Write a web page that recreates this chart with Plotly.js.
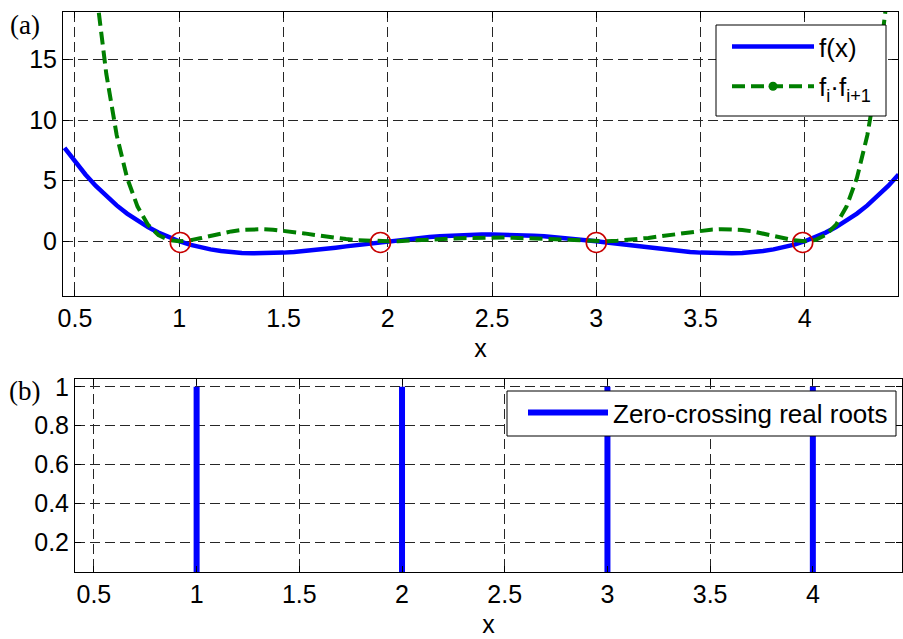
<!DOCTYPE html>
<html>
<head>
<meta charset="utf-8">
<script src="https://cdn.plot.ly/plotly-3.0.1.min.js"></script>
<style>html,body{margin:0;padding:0;background:#fff;} #chart{width:903px;height:639px;}</style>
</head>
<body>
<div id="chart"></div>
<script>
// Sample positions along x
const xSample = [0.45, 0.50, 0.55, 0.60, 0.65, 0.70, 0.75, 0.80, 0.85, 0.90, 0.95, 1.00,
  1.05, 1.10, 1.15, 1.20, 1.25, 1.30, 1.35, 1.40, 1.45, 1.50, 1.55, 1.60, 1.65, 1.70,
  1.75, 1.80, 1.85, 1.90, 1.95, 2.00, 2.05, 2.10, 2.15, 2.20, 2.25, 2.30, 2.35, 2.40,
  2.45, 2.50, 2.55, 2.60, 2.65, 2.70, 2.75, 2.80, 2.85, 2.90, 2.95, 3.00, 3.05, 3.10,
  3.15, 3.20, 3.25, 3.30, 3.35, 3.40, 3.45, 3.50, 3.55, 3.60, 3.65, 3.70, 3.75, 3.80,
  3.85, 3.90, 3.95, 4.00, 4.05, 4.10, 4.15, 4.20, 4.25, 4.30, 4.35, 4.40, 4.45];

// f(x)
const fValues = [7.717, 6.563, 5.515, 4.570, 3.720, 2.960, 2.285, 1.690, 1.168, 0.716, 0.328, 0,
  -0.273, -0.496, -0.672, -0.806, -0.902, -0.964, -0.995, -0.998, -0.978, -0.938, -0.879, -0.806, -0.722, -0.628,
  -0.527, -0.422, -0.315, -0.208, -0.102, 0, 0.097, 0.188, 0.271, 0.346, 0.410, 0.464, 0.507, 0.538,
  0.556, 0.563, 0.556, 0.538, 0.507, 0.464, 0.410, 0.346, 0.271, 0.188, 0.097, 0, -0.102, -0.208,
  -0.315, -0.422, -0.527, -0.628, -0.722, -0.806, -0.879, -0.938, -0.978, -0.998, -0.995, -0.964, -0.902, -0.806,
  -0.672, -0.496, -0.273, 0, 0.328, 0.716, 1.168, 1.690, 2.285, 2.960, 3.720, 4.570, 5.515];

// f_i * f_{i+1}
const productValues = [59.55, 43.07, 30.42, 20.88, 13.84, 8.76, 5.22, 2.86, 1.364, 0.513, 0.108, 0,
  0.075, 0.246, 0.452, 0.650, 0.814, 0.929, 0.990, 0.996, 0.956, 0.879, 0.773, 0.650, 0.521, 0.394,
  0.278, 0.178, 0.099, 0.043, 0.010, 0, 0.009, 0.035, 0.073, 0.120, 0.168, 0.215, 0.257, 0.289,
  0.309, 0.316, 0.309, 0.289, 0.257, 0.215, 0.168, 0.120, 0.073, 0.035, 0.009, 0, 0.010, 0.043,
  0.099, 0.178, 0.278, 0.394, 0.521, 0.650, 0.773, 0.879, 0.956, 0.996, 0.990, 0.929, 0.814, 0.650,
  0.452, 0.246, 0.075, 0, 0.108, 0.513, 1.364, 2.86, 5.22, 8.76, 13.84, 20.88, 30.42];

// Detected roots (red circles in panel a)
const rootsFound = [1.005, 1.965, 3.0, 3.99];
const rootsFoundY = [-0.1, -0.1, -0.1, -0.1];

// Zero-crossing real roots (panel b)
const rootsX = [1, 2, 3, 4];
const rootIndicator = [1, 1, 1, 1];

const seriesNames = ['f(x)', 'f<sub>i</sub>·f<sub>i+1</sub>', 'Zero-crossing real roots'];

const stemX = [], stemY = [];
rootsX.forEach((r, i) => { stemX.push(r, r, null); stemY.push(0, rootIndicator[i], null); });

const W = 903, H = 639;
const traces = [
  {x: xSample, y: fValues, type: 'scatter', mode: 'lines', name: seriesNames[0],
   line: {color: '#0000ff', width: 4.5}, xaxis: 'x', yaxis: 'y', legend: 'legend', legendgroup: 'a'},
  {x: xSample, y: productValues, type: 'scatter', mode: 'lines+markers', name: seriesNames[1],
   line: {color: '#007f00', width: 4, dash: '13px,6px'},
   marker: {color: '#007f00', size: 9},
   selectedpoints: [0], selected: {marker: {opacity: 1}}, unselected: {marker: {opacity: 0}},
   xaxis: 'x', yaxis: 'y', legend: 'legend', legendgroup: 'b'},
  {x: rootsFound, y: rootsFoundY, type: 'scatter', mode: 'markers', showlegend: false,
   marker: {symbol: 'circle-open', size: 20, color: '#c80000', line: {width: 1.6, color: '#c80000'}},
   xaxis: 'x', yaxis: 'y'},
  {x: stemX, y: stemY, type: 'scatter', mode: 'lines', name: seriesNames[2],
   line: {color: '#0000ff', width: 6}, xaxis: 'x2', yaxis: 'y2', legend: 'legend2'}
];

const axisCommon = {
  showline: true, linecolor: 'black', linewidth: 1, mirror: 'ticks',
  ticks: 'inside', ticklen: 6, tickcolor: 'black', tickwidth: 1,
  showgrid: true, gridcolor: '#262626', gridwidth: 1, griddash: '10px,5px',
  zeroline: false, tickfont: {family: 'Liberation Sans, Arial, sans-serif', size: 25, color: 'black'},
  fixedrange: true
};

const layout = {
  width: W, height: H, margin: {l: 0, r: 0, t: 0, b: 0},
  paper_bgcolor: 'white', plot_bgcolor: 'white',
  font: {family: 'Liberation Sans, Arial, sans-serif', size: 25, color: 'black'},
  showlegend: true,
  legend: {x: 727 / W, xanchor: 'left', y: 1 - 23 / H, yanchor: 'top',
    borderwidth: 0, bgcolor: 'rgba(0,0,0,0)', font: {size: 26},
    itemwidth: 82, traceorder: 'grouped', tracegroupgap: 3},
  legend2: {x: 523 / W, xanchor: 'left', y: 1 - 389 / H, yanchor: 'top',
    borderwidth: 0, bgcolor: 'rgba(0,0,0,0)', font: {size: 26}, itemwidth: 80},
  shapes: [
    {type: 'rect', xref: 'paper', yref: 'paper', layer: 'above',
     x0: 716 / W, x1: 886 / W, y0: 1 - 116 / H, y1: 1 - 25 / H,
     fillcolor: 'white', line: {color: 'black', width: 1}},
    {type: 'rect', xref: 'paper', yref: 'paper', layer: 'above',
     x0: 507 / W, x1: 896 / W, y0: 1 - 436 / H, y1: 1 - 391 / H,
     fillcolor: 'white', line: {color: 'black', width: 1}}
  ],
  xaxis: Object.assign({}, axisCommon, {domain: [63 / W, 898 / W], range: [0.4425, 4.447],
    tick0: 0.5, dtick: 0.5, anchor: 'y', title: {text: 'x', font: {size: 25}, standoff: 8}}),
  yaxis: Object.assign({}, axisCommon, {domain: [1 - 296 / H, 1 - 12 / H], range: [-4.52, 18.93],
    tick0: 0, dtick: 5, anchor: 'x'}),
  xaxis2: Object.assign({}, axisCommon, {domain: [75 / W, 902 / W], range: [0.408, 4.434],
    tick0: 0.5, dtick: 0.5, anchor: 'y2', title: {text: 'x', font: {size: 25}, standoff: 8}}),
  yaxis2: Object.assign({}, axisCommon, {domain: [1 - 572 / H, 1 - 379 / H], range: [0.048, 1.04],
    tickvals: [0.2, 0.4, 0.6, 0.8, 1], anchor: 'x2'}),
  annotations: [
    {text: '(a)', xref: 'paper', yref: 'paper', x: 8 / W, y: 1 - 25 / H, xanchor: 'left', yanchor: 'middle',
     showarrow: false, font: {family: 'Liberation Serif, Times New Roman, serif', size: 27, color: 'black'}},
    {text: '(b)', xref: 'paper', yref: 'paper', x: 7 / W, y: 1 - 391 / H, xanchor: 'left', yanchor: 'middle',
     showarrow: false, font: {family: 'Liberation Serif, Times New Roman, serif', size: 27, color: 'black'}}
  ]
};

Plotly.newPlot('chart', traces, layout, {displayModeBar: false, staticPlot: true});
</script>
</body>
</html>
